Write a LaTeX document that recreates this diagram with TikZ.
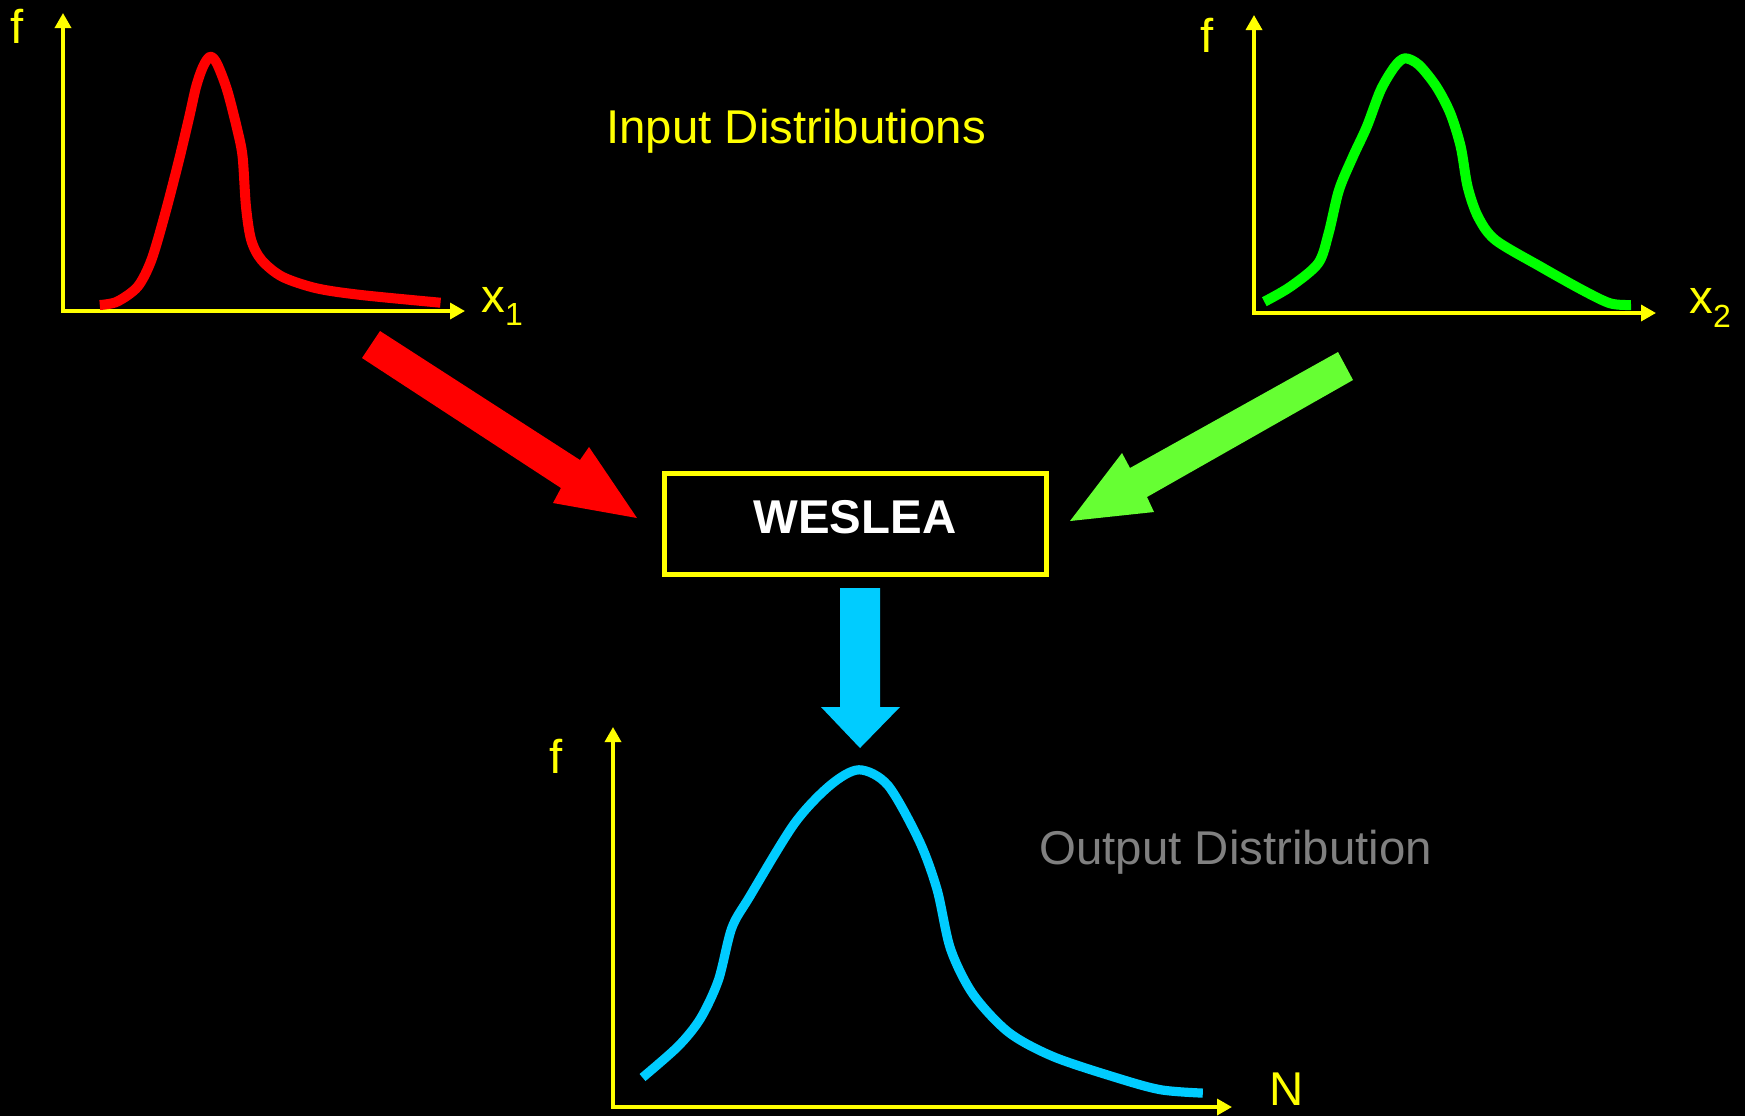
\documentclass[tikz,border=0pt]{standalone}
\usepackage{fontspec}
\setmainfont{Liberation Sans}
\usetikzlibrary{arrows.meta}
\definecolor{axyellow}{RGB}{255,255,0}
\definecolor{curvered}{RGB}{255,0,0}
\definecolor{curvegreen}{RGB}{0,255,0}
\definecolor{arrowgreen}{RGB}{102,255,51}
\definecolor{cyanblue}{RGB}{0,204,255}
\definecolor{graytext}{RGB}{128,128,128}
\begin{document}
\begin{tikzpicture}[x=0.5pt,y=-0.5pt,
  axis/.style={draw=axyellow, line width=1.7pt, line join=miter,
    {Triangle[length=7.5pt,width=8pt]}-{Triangle[length=7.5pt,width=8pt]}},
  lbl/.style={text=axyellow, font=\fontsize{23.7}{28}\selectfont, inner sep=0pt, anchor=base},
  curve/.style={line width=5pt, line join=round, line cap=butt},
  wbox/.style={draw=axyellow, line width=2.5pt, minimum width=191pt, minimum height=50.5pt,
    inner sep=0pt, text=white, font=\bfseries\fontsize{23.7}{28}\selectfont,
    text height=12pt, text depth=2.7pt}
]
\fill[black] (0,0) rectangle (1745,1116);
\useasboundingbox (0,0) rectangle (1745,1116);

% ---------- top-left plot ----------
\coordinate (o1) at (63,311);
\coordinate (y1) at (63,13);
\coordinate (xt1) at (465,311);
\draw[axis] (y1) -- (o1) -- (xt1);
\node[lbl] (f1) at (17,43) {f};
\node[lbl, anchor=base west] (x1) at (481,312) {x\raisebox{-6.5pt}{\fontsize{16}{16}\selectfont 1}};
\draw[curve, curvered] plot[smooth, tension=0.5] coordinates {
 (99.8,305) (117,301.7) (137.6,286.7) (151.4,260) (165.2,213.3) (179,160)
 (189.3,116.7) (196.1,86.7) (203,66.7) (210,56.7) (216.8,63.3) (227.1,90)
 (237.4,130) (242.6,156.7) (246,206.7) (251.2,240) (261.5,260) (282.2,276.7)
 (316.6,288.3) (361.3,295) (440.5,302.7)};

% ---------- top-right plot ----------
\coordinate (o2) at (1254,313);
\coordinate (y2) at (1254,15);
\coordinate (xt2) at (1656,313);
\draw[axis] (y2) -- (o2) -- (xt2);
\node[lbl] (f2) at (1207,52) {f};
\node[lbl, anchor=base west] (x2) at (1689,313) {x\raisebox{-7pt}{\fontsize{16}{16}\selectfont 2}};
\draw[curve, curvegreen] plot[smooth, tension=0.5] coordinates {
 (1264.3,301.7) (1290.4,286.7) (1318.2,263.3) (1328.6,233.3) (1339,190)
 (1352.9,156.7) (1366.8,126.7) (1380.7,90) (1394.6,66.7) (1405,58.3)
 (1419,65) (1436.4,86.7) (1450.3,113.3) (1460.7,146.7) (1467.6,186.7)
 (1478,216.7) (1495.4,240) (1540.6,266.7) (1582.3,290) (1610.1,303.3) (1631,305)};

% ---------- titles ----------
\node[lbl, anchor=base west] (title) at (606,143) {Input Distributions};
\node[lbl, anchor=base west, text=graytext] (outtitle) at (1039,864) {Output Distribution};

% ---------- WESLEA box ----------
\node[wbox] (wes) at (855,523.7) {WESLEA};

% ---------- block arrows ----------
\fill[curvered] (380,331) -- (580,460) -- (589,447) -- (637,518) -- (553,503)
  -- (561,488) -- (362,358) -- cycle;
\fill[arrowgreen] (1338,352) -- (1130,468) -- (1122,453) -- (1070,521) -- (1154,512)
  -- (1147,497) -- (1353,380) -- cycle;
\fill[cyanblue] (840,588) -- (880,588) -- (880,707) -- (900,707) -- (860,748)
  -- (821,707) -- (840,707) -- cycle;

% ---------- output plot ----------
\coordinate (o3) at (613,1107);
\coordinate (y3) at (613,727);
\coordinate (xt3) at (1232,1107);
\draw[axis] (y3) -- (o3) -- (xt3);
\node[lbl] (f3) at (556,773) {f};
\node[lbl, anchor=base west] (N) at (1269,1105) {N};
\draw[curve, cyanblue, line width=4.6pt] plot[smooth, tension=0.5] coordinates {
 (642.5,1077.5) (678.2,1046.2) (700.5,1018.4) (718.4,980.1) (731.8,928)
 (749.6,896.7) (794.3,823.7) (830,785.4) (859,769.8) (888,785.4) (919.3,841)
 (937.1,889.7) (950.5,948.8) (972.9,994) (1008.6,1032.3) (1053.2,1056.6)
 (1115.7,1077.5) (1160.4,1089.7) (1202.8,1093.1)};
\end{tikzpicture}
\end{document}
